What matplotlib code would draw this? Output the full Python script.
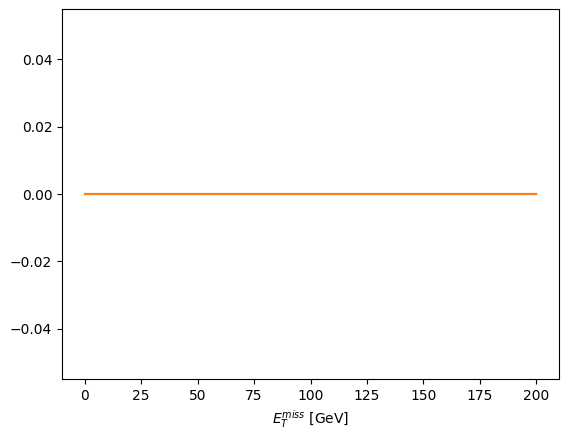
import matplotlib
matplotlib.use("Agg")
import matplotlib.pyplot as plt
import numpy as np

bin_edges = [0, 25, 50, 75, 100, 125, 150, 175, 200]
series_a = [0, 0, 0, 0, 0, 0, 0, 0, 0]
series_b = [0, 0, 0, 0, 0, 0, 0, 0, 0]

fig = plt.figure(figsize=(5.67, 4.4), dpi=100)
ax = fig.add_axes([62/567, 1-379/440, (559-62)/567, (379-9)/440])
ax.plot(bin_edges, series_a, color="C0")
ax.plot(bin_edges, series_b, color="C1")
ax.set_xlabel(r"$E_T^{miss}$ [GeV]")
fig.savefig("out.png", dpi=100)
